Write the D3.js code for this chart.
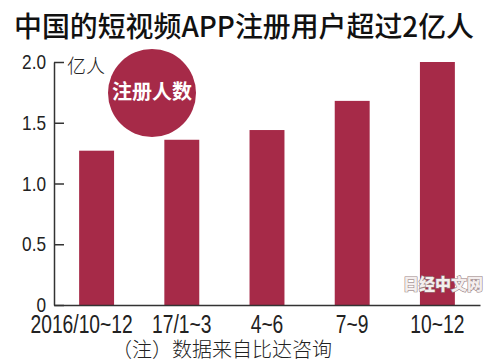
<!DOCTYPE html>
<html>
<head>
<meta charset="utf-8">
<script src="https://cdn.jsdelivr.net/npm/d3@7"></script>
<style>
  body { margin: 0; background: #fff; }
  text { font-family: "Noto Sans CJK SC", sans-serif; }
  .num { font-family: "Liberation Sans Narrow", "Liberation Sans", sans-serif; }
</style>
</head>
<body>
<div id="chart"></div>
<script>
// data
var quarters = ["2016/10~12", "17/1~3", "4~6", "7~9", "10~12"];
var users = [1.27, 1.36, 1.44, 1.68, 2.0];   // 亿人
var yTicks = [0, 0.5, 1.0, 1.5, 2.0];

var barColor = "#a62a48";

var width = 500, height = 363;
var svg = d3.select("#chart").append("svg")
   .attr("width", width)
   .attr("height", height);

var plotLeft = 54, plotRight = 480, plotBottom = 305, plotTop = 62;

var x = d3.scaleBand()
   .domain(quarters)
   .range([plotLeft, plotRight])
   .paddingInner(0.59)
   .paddingOuter(0.295);

var y = d3.scaleLinear()
   .domain([0, 2])
   .range([plotBottom, plotTop]);

// squeeze numeric labels, the original uses a condensed face
function narrow(sel, k) {
   sel.each(function() {
      var w = this.getComputedTextLength();
      d3.select(this).attr("textLength", w * k).attr("lengthAdjust", "spacingAndGlyphs");
   });
}

// title
svg.append("text")
   .attr("x", 14)
   .attr("y", 37)
   .attr("textLength", 460)
   .attr("lengthAdjust", "spacingAndGlyphs")
   .style("font-size", "28px")
   .style("font-weight", "500")
   .attr("fill", "#111")
   .text("中国的短视频APP注册用户超过2亿人");

// bars
svg.selectAll(".bar")
   .data(users)
   .enter().append("rect")
   .attr("class", "bar")
   .attr("x", function(d, i) { return x(quarters[i]); })
   .attr("width", x.bandwidth())
   .attr("y", function(d) { return y(d); })
   .attr("height", function(d) { return plotBottom - y(d); })
   .attr("fill", barColor);

// y axis, ticks pointing inward
var yAxis = svg.append("g")
   .attr("transform", "translate(" + plotLeft + ",0)")
   .call(d3.axisLeft(y)
      .tickValues(yTicks)
      .tickSizeInner(-10)
      .tickSizeOuter(0)
      .tickPadding(8)
      .tickFormat(function(d) { return d === 0 ? "0" : d.toFixed(1); }));

yAxis.select(".domain").attr("stroke", "#333").attr("stroke-width", 1.5);
yAxis.selectAll(".tick line").attr("stroke", "#333").attr("stroke-width", 1.5);
yAxis.selectAll(".tick text")
   .attr("class", "num")
   .attr("fill", "#222")
   .style("font-size", "21px")
   .call(narrow, 0.82);

// x axis
var xAxis = svg.append("g")
   .attr("transform", "translate(0," + plotBottom + ")")
   .call(d3.axisBottom(x).tickSize(0).tickPadding(10).tickSizeOuter(0));

xAxis.select(".domain").attr("stroke", "#333").attr("stroke-width", 1.5);
xAxis.selectAll(".tick text")
   .attr("class", "num")
   .attr("fill", "#222")
   .style("font-size", "25px")
   .call(narrow, 0.77);
// first label sits a little left of its bar
xAxis.select(".tick text").attr("dx", -15);

// unit
svg.append("text")
   .attr("x", 67)
   .attr("y", 73)
   .style("font-size", "19px")
   .style("font-weight", "300")
   .attr("fill", "#222")
   .text("亿人");

// legend badge
svg.append("circle")
   .attr("cx", 152)
   .attr("cy", 93)
   .attr("r", 44)
   .attr("fill", barColor);

svg.append("text")
   .attr("x", 152)
   .attr("y", 99)
   .attr("text-anchor", "middle")
   .style("font-size", "20px")
   .style("font-weight", "700")
   .attr("fill", "#fff")
   .text("注册人数");

// note
svg.append("text")
   .attr("x", 112)
   .attr("y", 357)
   .style("font-size", "20px")
   .style("font-weight", "300")
   .attr("fill", "#222")
   .text("（注）数据来自比达咨询");

// watermark
svg.append("text")
   .attr("x", 443)
   .attr("y", 290)
   .attr("text-anchor", "middle")
   .style("font-size", "16px")
   .style("font-weight", "900")
   .attr("fill", "#f4eeee")
   .attr("stroke", "#9a8486")
   .attr("stroke-width", 1.2)
   .attr("paint-order", "stroke")
   .text("日经中文网");
</script>
</body>
</html>
